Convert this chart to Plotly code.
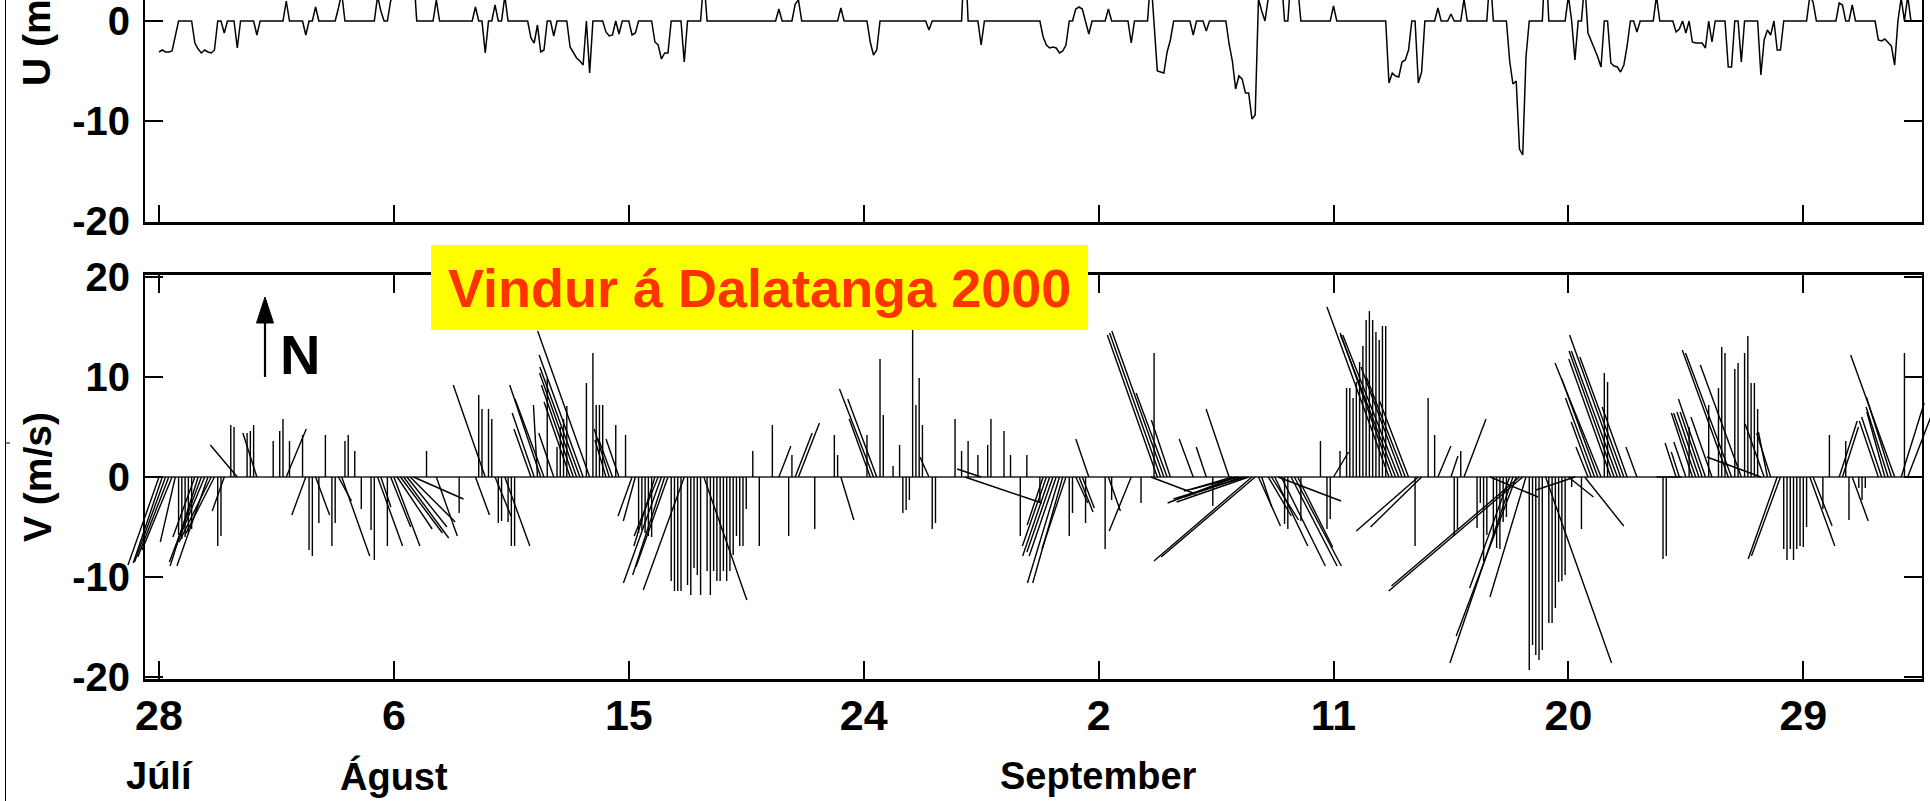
import pandas as pd
import plotly.graph_objects as go

# ---------------- data (3-hourly observations from 28 July 2000) ----------------
START = "2000-07-28 00:00"
STEP = "3h"

# V component (m/s), 8 values per day
V = [
    -8.8, -8.6, -8.5, -8.0, -7.3, -6.5, -5.8, -6.2,
    -6.0, -5.6, -5.2, -6.0, -8.9, -8.5, -7.0, -8.9,
    -6.5, -5.7, -6.9, -5.9, -3.4, 0, 5.2, 5.0,
    3.2, 0, 0, 4.4, 4.6, 5.2, 4.4, 0,
    0, 0, 0, 3.6, 0, 4.6, 5.8, 4.8,
    3.6, 0, 0, 0, 4.2, -3.8, -7.3, -7.9,
    -3.8, -4.6, 0, 4.2, 0, -6.9, -4.6, -2.4,
    -7.9, 3.6, 4.2, 0, 2.6, 0, -3.2, 0,
    0, -5.3, -8.3, -6.9, -3.0, 0, -6.9, -5.0,
    -6.9, -5.2, -5.6, -6.1, -5.0, -4.5, -2.2, 0,
    0, 0, 2.6, 0, 0, -5.9, 0, 0,
    0, 0, 0, 0, -3.6, 0, 0, 0,
    0, -3.8, 8.2, 6.8, 9.2, 6.8, 5.8, -3.9,
    -4.6, -4.4, -6.9, -4.5, -6.9, -6.9, 0, 0,
    0, 0, 4.8, 6.4, 7.2, 9.2, 7.8, 9.9,
    0, 4.4, 3.0, 5.0, 5.8, 7.1, 7.5, 9.2,
    10.4, 11.0, 12.2, 9.4, 14.6, 12.4, 7.2, 7.2,
    7.2, 3.7, 4.8, 3.8, 5.2, 3.8, 0, 4.2,
    0, -3.9, -4.4, -5.6, -5.3, -5.6, -5.9, -6.0,
    -6.9, -5.9, -10.6, -9.8, -9.0, -10.4, -11.4, -11.4,
    -11.4, -11.3, -10.8, -11.8, -9.1, -9.8, -11.8, -12.3,
    -9.4, -11.8, -9.4, -10.4, -10.4, -9.4, -10.4, -9.4,
    -7.8, -5.9, -6.9, -6.9, -3.2, 0, 2.6, 0,
    -6.9, 0, 0, 0, 5.2, 0, 3.1, 0,
    0, -5.9, 2.2, 4.4, 5.4, 0, 0, 0,
    0, -5.2, 0, 0, 0, 0, 0, 4.2,
    2.2, -4.3, 0, 0, 0, 0, 0, 0,
    0, 4.2, 5.8, 8.8, 7.8, 11.8, 6.2, 0,
    0, 1.1, 0, 3.2, -3.6, -3.3, -2.3, 14.7,
    7.2, 9.9, 5.2, 0, 2.0, -5.2, -4.6, 0,
    0, 0, 0, 0, 5.8, 0, 2.6, -2.6,
    3.6, 0, 0, 2.2, 0.8, 0, 3.2, 5.8,
    0, 0, 0, 4.6, 0, 2.2, 0, 0,
    -5.9, 0, 2.2, 0, 0, 0, -2.6, -4.8,
    -6.9, -7.9, -7.5, -7.9, -10.6, -10.6, -7.2, -5.9,
    -3.6, -2.6, -3.5, -3.1, -4.6, 3.8, 0, 0,
    0, 0, -7.2, -3.4, -2.3, 0, 0, 0,
    0, 0, -5.4, 0, 0, -2.6, 0, 0,
    -1.7, 12.4, 14.2, 14.4, 14.6, 8.4, 5.7, 0,
    0, 0, 0, 0, 0, 3.8, 0, 0,
    0, 3.0, 0, -2.9, 0, 0, 0, 0,
    6.8, -1.2, -2.6, -1.4, -2.0, -2.2, -2.5, -8.4,
    -8.0, -4.9, -3.0, 0, -3.9, -4.3, -6.9, -2.4,
    -8.9, -4.7, -5.2, -8.9, -8.9, -7.0, -4.4, 0,
    0, 0, 0, 0, 3.6, 0, -5.2, -4.2,
    2.5, 0, 2.6, 0, 8.9, 8.9, 7.9, 9.5,
    11.5, 13.1, 15.7, 16.6, 15.7, 14.5, 13.7, 15.1,
    15.1, 17.0, 14.4, 14.2, 14.2, 11.0, 10.0, 7.6,
    0, -6.9, -5.4, -5.0, 0, 7.9, 0, 4.2,
    3.1, 0, 0, 0, 2.1, -5.9, -5.2, 2.6,
    5.8, 0, 0, 0, -5.1, -2.6, -8.4, -5.8,
    -2.0, -6.0, -7.1, -7.2, -4.5, -4.0, -11.1, -18.6,
    -15.9, -10.9, -11.4, -12.0, -19.3, -16.8, -17.8, -18.3,
    -17.3, -18.6, -14.6, -14.6, -13.1, -10.5, -10.4, -9.8,
    -2.0, -1.0, -1.3, 0, -5.2, -4.9, 3.0, 5.5,
    7.9, 9.8, 11.4, 10.4, 9.5, 11.8, 12.6, 12.6,
    14.2, 12.0, 7.0, 0, 0, 3.0, 0, 0,
    0, 0, 0, 0, 0, -8.2, -7.9, 0,
    0, 3.4, 2.5, 0, 3.5, 5.0, 6.4, 6.4,
    6.5, 6.5, 7.8, 7.2, 6.0, 0, 8.9, 13.0,
    12.4, 12.7, 12.4, 10.8, 11.4, 11.2, 12.4, 14.1,
    9.4, 9.4, 6.8, 2.0, 5.3, 4.5, 4.4, 0,
    -8.2, -7.9, -7.2, -8.3, -7.2, -8.3, -7.2, -6.9,
    -7.0, -5.0, -6.9, -4.9, 0, 0, -3.2, 0,
    4.2, 0, 0, 5.6, 5.0, 3.6, -4.3, -4.4,
    0, -1.1, -2.3, -1.1, 0, 0, 0, 5.6,
    6.0, 6.5, 7.0, 8.0, 12.2, 0, 7.4, 12.4,
    6.5, 0, 0, 0, 0,
]

# U component (m/s), 8 values per day
U = [
    -3.1, -2.9, -3.1, -3.1, -3.0, -1.5, 0, 0,
    0, 0, 0, -2.2, -2.8, -3.2, -2.9, -3.1,
    -3.2, -2.9, 0, 0, -1.2, 0, 0, 0,
    -2.7, 0, 0, 0, 0, 0, -1.4, 0,
    0, 0, 0, 0, 0, 0, 0, 2.0,
    0, 0, 0, 0, 0, -1.4, 0, 0,
    1.4, 0, 0, 0, 0, 0, 0, 1.3,
    2.8, 0, 0, 0, 0, 0, 0, 0,
    0, 0, 0, 2.5, 1.0, 0, 0, 2.0,
    2.6, 3.5, 4.2, 4.5, 4.0, 4.5, 5.0, 0,
    0, 0, 0, 0, 0, 2.1, 0, 0,
    0, 0, 0, 0, 0, 0, 0, 0,
    0, 1.4, 0, 0, -3.2, 0, 0, 1.6,
    0, 0, 2.5, 0, 0, 0, 0, 0,
    0, 0, -1.7, -2.2, -0.4, -3.1, -2.9, 0,
    0, -1.5, 0, 0, 0, 0, -2.6, -3.2,
    -3.7, -4.0, -4.4, 0, -5.2, 0, 0, 0,
    0, -1.1, -1.5, -1.4, 0, -1.3, 0, 0,
    0, -1.4, -1.2, 0, 0, 0, 0, 0,
    -2.1, -2.4, -3.8, -3.2, -3.2, 0, 0, 0,
    0, -4.1, 0, 0, 0, 0, 0, 4.3,
    0, 0, 0, 0, 0, 0, 0, 0,
    0, 0, 0, 0, 0, 0, 0, 0,
    0, 0, 0, 0, 0, 0, 1.2, 0,
    0, 0, 0, 1.7, 2.1, 0, 0, 0,
    0, 0, 0, 0, 0, 0, 0, 0,
    0, 1.3, 0, 0, 0, 0, 0, 0,
    0, 0, -2.1, -3.4, -2.9, 0, 0, 0,
    0, 0, 0, 0, 0, 0, 0, 0,
    0, 0, 0, 0, -0.9, 0, 0, 0,
    0, 0, 0, 0, 0, 0, 0, 7.7,
    0, 0, 0, 0, -2.4, 0, 0, 0,
    0, 0, 0, 0, 0, 0, 0, 0,
    0, 0, 0, 0, 0, 0, 0, -1.6,
    -2.4, -2.7, -2.6, -2.7, -3.2, -3.0, -2.4, 0,
    0, 1.2, 1.4, 1.2, 0, -1.3, 0, 0,
    0, 0, 0, 1.2, 0, 0, 0, 0,
    0, 0, -2.2, 0, 0, 0, 0, 0,
    4.5, 0, -5.0, -5.1, -5.2, -3.1, -1.9, 0,
    0, 0, 0, 0, 0, -1.4, 0, 0,
    0, -1.0, 0, 0, 0, 0, 0, 0,
    -2.3, -4.0, -6.8, -5.5, -5.8, -7.2, -7.2, -9.8,
    -9.4, 2.2, 1.0, 0, 2.3, 2.7, 3.3, 6.3,
    4.4, 0, 0, 4.6, 4.7, 3.5, 0, 0,
    0, 0, 0, 0, 0, 0, 0, 0,
    1.5, 0, 0, 0, 0, 0, 0, 0,
    0, 0, 0, 0, 0, 0, 0, 0,
    0, -6.2, -5.2, -5.5, -5.6, -4.1, -3.9, -2.9,
    0, 0, -6.2, -5.1, 0, 0, 0, 0,
    1.3, 0, 0, 0, 0.7, 0, 0, 0,
    2.2, 0, 0, 0, 0, 0, 0, 0,
    4.8, 0, 0, 0, 0, 0, -4.0, -6.3,
    -6.0, -12.8, -13.4, -3.6, 0, 0, 0, 0,
    0, 6.6, 0, 0, 0, 0, 0, 0,
    2.5, 0, -3.9, 0, 0, 3.9, -1.2, -2.0,
    -2.9, -3.6, -4.6, 0, 0, -4.2, -4.5, -4.6,
    -5.1, -4.4, -2.5, 0, 0, -1.1, 0, 0,
    0, 0, 0, 2.5, 0, 0, 0, 0,
    0, -1.1, -0.8, 0, -1.2, 0, -2.1, -2.2,
    -2.2, -2.2, -2.7, 0, -2.1, 0, 0, 0,
    0, -4.6, -4.6, 0, 0, -4.1, 0, 0,
    0, 0, 0, -5.4, -1.9, -0.9, -1.4, 0,
    -2.9, -2.9, 0, 0, 0, 0, 0, 0,
    0, 0, 2.5, 1.9, 0, 0, 0, 0,
    0, 0, 0, 1.8, 1.6, 0, 0, 1.6,
    0, 0, 0, 0, 0, 0, 0, -1.9,
    -2.0, -1.8, -2.2, -2.5, -4.4, 0, 2.3, 0,
    2.5, 0, 0, 0, 0,
]

TICK_DATES = ["2000-07-28", "2000-08-06", "2000-08-15", "2000-08-24",
              "2000-09-02", "2000-09-11", "2000-09-20", "2000-09-29"]
TICK_TEXT = ["28", "6", "15", "24", "2", "11", "20", "29"]
MONTH_NAMES = ["Júlí", "Águst", "September"]
MONTH_DATES = ["2000-07-28", "2000-08-06", "2000-09-02"]
U_TICKS = [-20, -10, 0]
U_TICK_TEXT = ["-20", "-10", "0"]
V_TICKS = [-20, -10, 0, 10, 20]
V_TICK_TEXT = ["-20", "-10", "0", "10", "20"]
TITLE = "Vindur á Dalatanga 2000"

# ---------------- layout geometry (pixels) ----------------
W, H = 1930, 801
PL, PR = 145, 1922            # plot left / right
DAY0 = pd.Timestamp("2000-07-28")
X_DAY0_PX = 159.0
PX_PER_DAY = (PR - PL) / 68.084
TOP_Y = (0, 222)               # top panel pixel span
TOP_RANGE = [-20.1, 2.1]
BOT_Y = (275, 679)             # bottom panel pixel span
BOT_RANGE = [-20.2, 20.2]
PX_PER_MS = (BOT_Y[1] - BOT_Y[0]) / (BOT_RANGE[1] - BOT_RANGE[0])


def px2day(px):
    return DAY0 + pd.Timedelta(days=(px - X_DAY0_PX) / PX_PER_DAY)


def fx(px):
    return px / W


def fy(py):
    return 1 - py / H


def tstr(t):
    return t.strftime("%Y-%m-%d %H:%M:%S.%f")


times = pd.date_range(START, periods=len(V), freq=STEP)
days_per_ms = PX_PER_MS / PX_PER_DAY

sx, sy = [], []
for t, u, v in zip(times, U, V):
    if u == 0 and v == 0:
        continue
    sx += [t, t + pd.Timedelta(days=u * days_per_ms), None]
    sy += [0, v, None]

FONT = "Liberation Sans, Arial, Helvetica, sans-serif"

fig = go.Figure()
fig.add_trace(go.Scatter(x=times, y=U, mode="lines", xaxis="x", yaxis="y",
                         line=dict(color="black", width=1.5), hoverinfo="skip"))
fig.add_trace(go.Scatter(x=sx, y=sy, mode="lines", xaxis="x3", yaxis="y2",
                         line=dict(color="black", width=1.4), hoverinfo="skip",
                         connectgaps=False))

xr = [tstr(px2day(PL)), tstr(px2day(PR))]
xr3 = [tstr(px2day(0)), tstr(px2day(W))]
tickvals = pd.to_datetime(TICK_DATES)

common = dict(showgrid=False, zeroline=False, showline=True, linecolor="black",
              ticks="inside", tickcolor="black", automargin=False,
              ticklabeloverflow="allow")

fig.update_layout(
    template="none",
    width=W, height=H, autosize=False,
    margin=dict(l=0, r=0, t=0, b=0, pad=0),
    paper_bgcolor="white", plot_bgcolor="rgba(0,0,0,0)",
    showlegend=False,
    font=dict(family=FONT, color="black"),
    xaxis=dict(domain=[fx(PL), fx(PR)], anchor="y", type="date", range=xr,
               tickvals=tickvals, ticktext=TICK_TEXT, showticklabels=False,
               linewidth=3, ticklen=17, tickwidth=2, **common),
    yaxis=dict(domain=[fy(TOP_Y[1]), fy(TOP_Y[0])], anchor="x", range=TOP_RANGE,
               tickvals=U_TICKS, ticktext=U_TICK_TEXT, mirror="ticks",
               linewidth=2, ticklen=18, tickwidth=2, ticklabelstandoff=5,
               tickfont=dict(size=40, weight="bold", family=FONT), **common),
    xaxis2=dict(domain=[fx(PL), fx(PR)], anchor="y2", type="date", range=xr,
                tickvals=tickvals, ticktext=TICK_TEXT, mirror="ticks",
                linewidth=3, ticklen=18, tickwidth=2, ticklabelstandoff=-4,
                tickfont=dict(size=43, weight="bold", family=FONT), **common),
    yaxis2=dict(domain=[fy(BOT_Y[1]), fy(BOT_Y[0])], anchor="x2", range=BOT_RANGE,
                tickvals=V_TICKS, ticktext=V_TICK_TEXT, mirror="ticks",
                linewidth=2, ticklen=18, tickwidth=2, ticklabelstandoff=5,
                tickfont=dict(size=40, weight="bold", family=FONT), **common),
    xaxis3=dict(domain=[0, 1], anchor="y2", type="date", range=xr3, visible=False,
                showgrid=False, zeroline=False, automargin=False),
)

shapes = [
    # zero line of the stick plot
    dict(type="line", xref="paper", yref="y2", x0=fx(PL), x1=fx(PR), y0=0, y1=0,
         line=dict(color="#222", width=1.5), layer="below"),
    # thin frame line at far left
    dict(type="line", xref="paper", yref="paper", x0=fx(5.5), x1=fx(5.5), y0=0, y1=1,
         line=dict(color="black", width=1)),
    dict(type="line", xref="paper", yref="paper", x0=fx(5.5), x1=fx(10), y0=fy(443), y1=fy(443),
         line=dict(color="black", width=1)),
    # yellow title box
    dict(type="rect", xref="paper", yref="paper", x0=fx(431), x1=fx(1088), y0=fy(330), y1=fy(245),
         fillcolor="#FFFF00", line=dict(width=0), layer="above"),
    # north arrow shaft and head
    dict(type="line", xref="paper", yref="paper", x0=fx(265), x1=fx(265), y0=fy(377), y1=fy(318),
         line=dict(color="black", width=2.2)),
    dict(type="path", xref="paper", yref="paper",
         path=f"M {fx(265)},{fy(297)} L {fx(256.5)},{fy(323)} L {fx(273.5)},{fy(323)} Z",
         fillcolor="black", line=dict(color="black", width=1)),
]
fig.update_layout(shapes=shapes)

ann = [
    dict(text=TITLE, xref="paper", yref="paper", x=fx(759.5), y=fy(288), showarrow=False,
         xanchor="center", yanchor="middle",
         font=dict(size=54, color="#FF3300", weight="bold", family=FONT)),
    dict(text="N", xref="paper", yref="paper", x=fx(300), y=fy(354), showarrow=False,
         xanchor="center", yanchor="middle", font=dict(size=56, weight="bold", family=FONT)),
    dict(text="V (m/s)", xref="paper", yref="paper", x=fx(37), y=fy(477), showarrow=False,
         textangle=-90, xanchor="center", yanchor="middle",
         font=dict(size=39, weight="bold", family=FONT)),
    dict(text="U (m/s)", xref="paper", yref="paper", x=fx(37), y=fy(20), showarrow=False,
         textangle=-90, xanchor="center", yanchor="middle",
         font=dict(size=39, weight="bold", family=FONT)),
]
for name, d in zip(MONTH_NAMES, MONTH_DATES):
    ann.append(dict(text=name, xref="x2", yref="paper", x=d, y=fy(776), showarrow=False,
                    xanchor="center", yanchor="middle",
                    font=dict(size=38, weight="bold", family=FONT)))
fig.update_layout(annotations=ann)

fig.write_html(
    "out.html",
    config={"displayModeBar": False},
    post_script="document.body.style.margin='0px';document.body.style.overflow='hidden';",
)
